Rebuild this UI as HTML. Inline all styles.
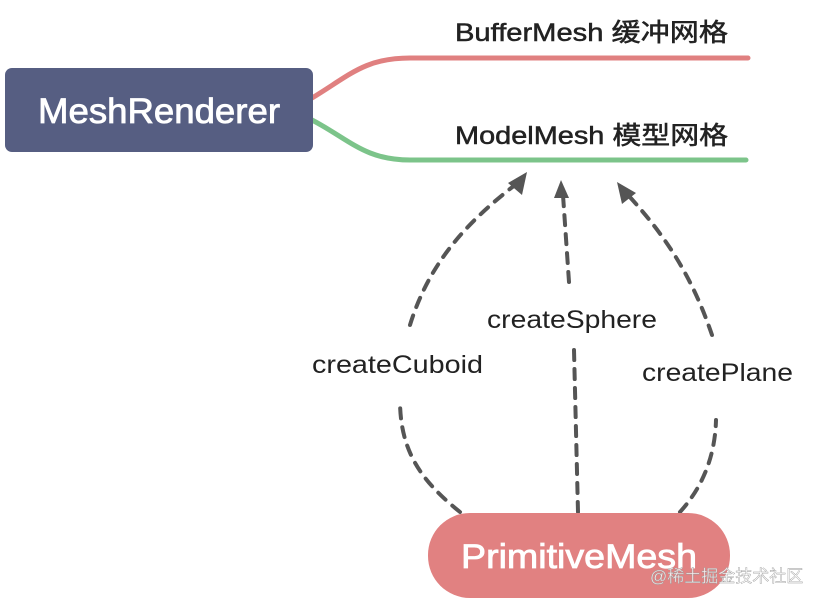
<!DOCTYPE html>
<html><head><meta charset="utf-8"><style>
body{margin:0;background:#fff;width:824px;height:602px;overflow:hidden;font-family:"Liberation Sans","Noto Sans CJK SC",sans-serif}
</style></head><body>
<svg width="824" height="602" xmlns="http://www.w3.org/2000/svg">
<path d="M312,98 C350,75 365,58 410,58 L748,58" stroke="#e08080" stroke-width="5" fill="none" stroke-linecap="round"/>
<path d="M312,120 C350,140 365,160 410,160 L746,160" stroke="#7cc48a" stroke-width="5" fill="none" stroke-linecap="round"/>
<rect x="5" y="68" width="308" height="84" rx="7" fill="#565e82"/>
<text x="38" y="123" font-size="35" fill="#fff" stroke="#fff" stroke-width="0.8" textLength="242" lengthAdjust="spacingAndGlyphs">MeshRenderer</text>
<text x="455" y="41" font-size="25" fill="#222" stroke="#222" stroke-width="0.5" textLength="273" lengthAdjust="spacingAndGlyphs">BufferMesh 缓冲网格</text>
<text x="455" y="144" font-size="25" fill="#222" stroke="#222" stroke-width="0.5" textLength="273" lengthAdjust="spacingAndGlyphs">ModelMesh 模型网格</text>
<g stroke="#555" stroke-width="4" fill="none" stroke-dasharray="10,9" stroke-linecap="round">
<path d="M460,512 C420,480 400,450 400,400"/>
<path d="M410,325 C430,260 470,220 515,185"/>
<path d="M578,512 L574,350"/>
<path d="M569,282 L563,195"/>
<path d="M680,512 C700,490 715,460 716,420"/>
<path d="M712,335 C690,270 660,230 628,195"/>
</g>
<path d="M527,172 L522,195 L508,183 z" fill="#555"/>
<path d="M561,180 L569,198 L554,198 z" fill="#555"/>
<path d="M617,182 L636,193 L622,204 z" fill="#555"/>
<text x="312" y="373" font-size="25" fill="#222" textLength="171" lengthAdjust="spacingAndGlyphs">createCuboid</text>
<text x="487" y="328" font-size="25" fill="#222" textLength="170" lengthAdjust="spacingAndGlyphs">createSphere</text>
<text x="642" y="381" font-size="25" fill="#222" textLength="151" lengthAdjust="spacingAndGlyphs">createPlane</text>
<rect x="428" y="513" width="302" height="85" rx="42" fill="#e18181"/>
<text x="461" y="568" font-size="34" fill="#fff" stroke="#fff" stroke-width="0.8" textLength="236" lengthAdjust="spacingAndGlyphs">PrimitiveMesh</text>
<text x="650" y="582" font-size="17" fill="#fff" fill-opacity="0.85" stroke="#999" stroke-width="0.4">@稀土掘金技术社区</text>
</svg>
</body></html>
